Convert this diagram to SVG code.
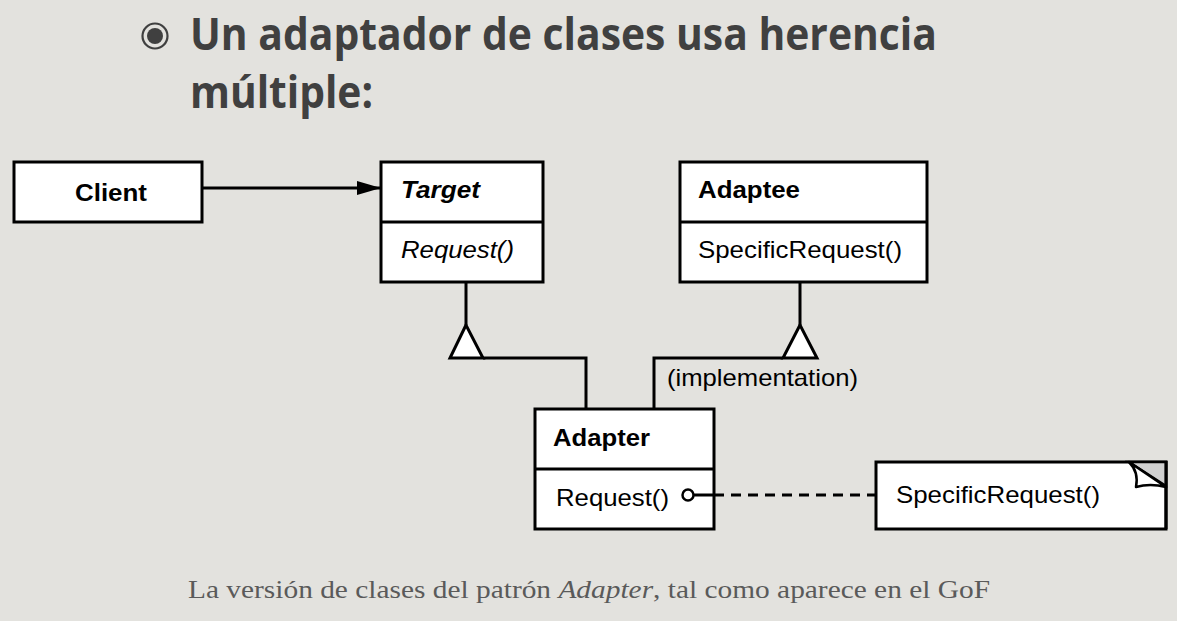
<svg xmlns="http://www.w3.org/2000/svg" width="1177" height="621" viewBox="0 0 1177 621">
<style>
.box{fill:#fff;stroke:#000;stroke-width:3}
.ln{fill:none;stroke:#000;stroke-width:3}
.t{font-family:"Liberation Sans",Arial,sans-serif;font-size:24px;fill:#000}
.b{font-weight:bold}
.i{font-style:italic}
.title{font-family:"Open Sans","Liberation Sans",sans-serif;font-weight:bold;font-size:45px;fill:#404040}
.cap{font-family:"Liberation Serif","Times New Roman",serif;font-size:26px;fill:#5a5a5a}
</style>
<defs>
<marker id="arr" markerWidth="24" markerHeight="14" refX="23" refY="7" orient="auto" markerUnits="userSpaceOnUse">
<path d="M0,0 L24,7 L0,14 Z" fill="#000"/>
</marker>
</defs>
<rect width="1177" height="621" fill="#e3e2de"/>
<g id="title">
<circle cx="155" cy="36" r="12.5" fill="none" stroke="#404040" stroke-width="2.2"/>
<circle cx="155" cy="36" r="8" fill="#404040"/>
<text class="title" x="190" y="50" textLength="747" lengthAdjust="spacingAndGlyphs">Un adaptador de clases usa herencia</text>
<text class="title" x="190" y="108" textLength="183" lengthAdjust="spacingAndGlyphs">múltiple:</text>
</g>
<g id="client">
<rect class="box" x="14" y="162" width="188" height="60"/>
<text class="t b" x="75" y="201" textLength="72" lengthAdjust="spacingAndGlyphs">Client</text>
</g>
<g id="target">
<rect class="box" x="381" y="162" width="162" height="120"/>
<line class="ln" x1="381" y1="222" x2="543" y2="222"/>
<text class="t b i" x="401" y="198" textLength="79" lengthAdjust="spacingAndGlyphs">Target</text>
<text class="t i" x="401" y="258" textLength="113" lengthAdjust="spacingAndGlyphs">Request()</text>
</g>
<g id="adaptee">
<rect class="box" x="680" y="162" width="247" height="120"/>
<line class="ln" x1="680" y1="222" x2="927" y2="222"/>
<text class="t b" x="698" y="198" textLength="102" lengthAdjust="spacingAndGlyphs">Adaptee</text>
<text class="t" x="698" y="258" textLength="204" lengthAdjust="spacingAndGlyphs">SpecificRequest()</text>
</g>
<g id="adapter">
<rect class="box" x="535" y="409" width="179" height="120"/>
<line class="ln" x1="535" y1="469" x2="714" y2="469"/>
<text class="t b" x="553" y="446" textLength="97" lengthAdjust="spacingAndGlyphs">Adapter</text>
<text class="t" x="556" y="506" textLength="113" lengthAdjust="spacingAndGlyphs">Request()</text>
</g>
<g id="note">
<rect class="box" x="876" y="462" width="290" height="67"/>
<polygon points="1129,462 1166,462 1166,486" fill="#d0d0d0" stroke="#000" stroke-width="2.5"/>
<path d="M1129,462 Q1139,472 1136,487 Q1150,483 1166,487 Z" fill="#fff" stroke="#000" stroke-width="2.5" stroke-linejoin="round"/>
<line class="ln" x1="1166" y1="461" x2="1166" y2="529"/>
<text class="t" x="896" y="503" textLength="204" lengthAdjust="spacingAndGlyphs">SpecificRequest()</text>
</g>
<g id="connectors">
<line class="ln" x1="202" y1="188" x2="380" y2="188" marker-end="url(#arr)"/>
<polyline class="ln" points="466,282 466,325"/>
<polygon points="466,325 450,358 483,358" fill="#fff" stroke="#000" stroke-width="3" stroke-linejoin="miter"/>
<polyline class="ln" points="483,358 586,358 586,408"/>
<polyline class="ln" points="800,282 800,325"/>
<polygon points="800,325 783,358 817,358" fill="#fff" stroke="#000" stroke-width="3"/>
<polyline class="ln" points="783,358 654,358 654,408"/>
<circle cx="688" cy="495" r="5.5" fill="#fff" stroke="#000" stroke-width="2.5"/>
<line class="ln" x1="694" y1="495" x2="714" y2="495"/>
<line class="ln" x1="714" y1="495" x2="876" y2="495" stroke-dasharray="10,7"/>
<text class="t" x="667" y="386" textLength="191" lengthAdjust="spacingAndGlyphs">(implementation)</text>
</g>
<g id="caption">
<text class="cap" x="188" y="598" textLength="802" lengthAdjust="spacingAndGlyphs">La versión de clases del patrón <tspan font-style="italic">Adapter</tspan>, tal como aparece en el GoF</text>
</g>
</svg>
